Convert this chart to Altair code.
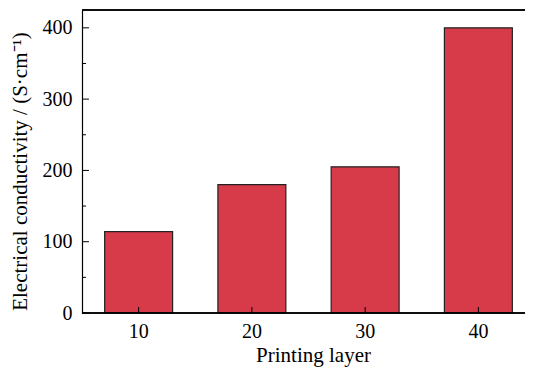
import altair as alt
import pandas as pd

layers = ["10", "20", "30", "40"]
conductivity = [114, 180, 205, 400]
major_ticks = [0, 100, 200, 300, 400]
minor_ticks = [50, 150, 250, 350]

bars_df = pd.DataFrame({"layer": layers, "value": conductivity})
major_df = pd.DataFrame({"v": major_ticks})
minor_df = pd.DataFrame({"v": minor_ticks})
xt_df = pd.DataFrame({"layer": layers})

W, H = 443, 303
FULL_W = 453
FONT = "Liberation Serif"

xscale = alt.Scale(domain=layers, paddingInner=0.4, paddingOuter=0.2, range=[0, FULL_W])
yscale = alt.Scale(domain=[0, 425], nice=False, zero=True)

bars = alt.Chart(bars_df).mark_bar(
    color="#D73A49", stroke="#222222", strokeWidth=1.2, clip=False
).encode(
    x=alt.X("layer:N", scale=xscale, sort=layers,
            axis=alt.Axis(title="Printing layer", labelAngle=0, labelPadding=8,
                          titlePadding=3, titleFontSize=21, domain=False, titleX=231)),
    y=alt.Y("value:Q", scale=yscale,
            axis=alt.Axis(title="Electrical conductivity / (S\u00b7cm\u207b\u00b9)",
                          values=major_ticks, labelPadding=10, titlePadding=12,
                          titleFontSize=21, titleY=161)),
)

major = alt.Chart(major_df).mark_rule(color="black", strokeWidth=1).encode(
    y=alt.Y("v:Q", scale=yscale), x=alt.value(0), x2=alt.value(7)
)
minor = alt.Chart(minor_df).mark_rule(color="black", strokeWidth=1).encode(
    y=alt.Y("v:Q", scale=yscale), x=alt.value(0), x2=alt.value(4)
)
xticks = alt.Chart(xt_df).mark_rule(color="black", strokeWidth=1).encode(
    x=alt.X("layer:N", scale=xscale, sort=layers), y=alt.value(H), y2=alt.value(H - 6)
)
topline = alt.Chart(xt_df).mark_rule(color="black", strokeWidth=1.2).encode(
    x=alt.value(0), x2=alt.value(FULL_W + 10), y=alt.value(0)
)
bottomline = alt.Chart(xt_df).mark_rule(color="black", strokeWidth=1.2).encode(
    x=alt.value(0), x2=alt.value(FULL_W + 10), y=alt.value(H)
)

chart = alt.layer(bars, major, minor, xticks, topline, bottomline).properties(
    width=W, height=H,
    background="white",
    autosize=alt.AutoSizeParams(type="none"),
    padding={"left": 74, "top": 2, "right": 0, "bottom": 54},
).configure_view(
    stroke=None
).configure_axis(
    ticks=False, grid=False,
    domainColor="black", domainWidth=1.2,
    labelFont=FONT, labelFontSize=20, labelColor="black",
    titleFont=FONT, titleFontSize=20, titleFontWeight="normal", titleColor="black",
)

chart.save("out.html", embed_options={"renderer": "svg", "actions": False})
